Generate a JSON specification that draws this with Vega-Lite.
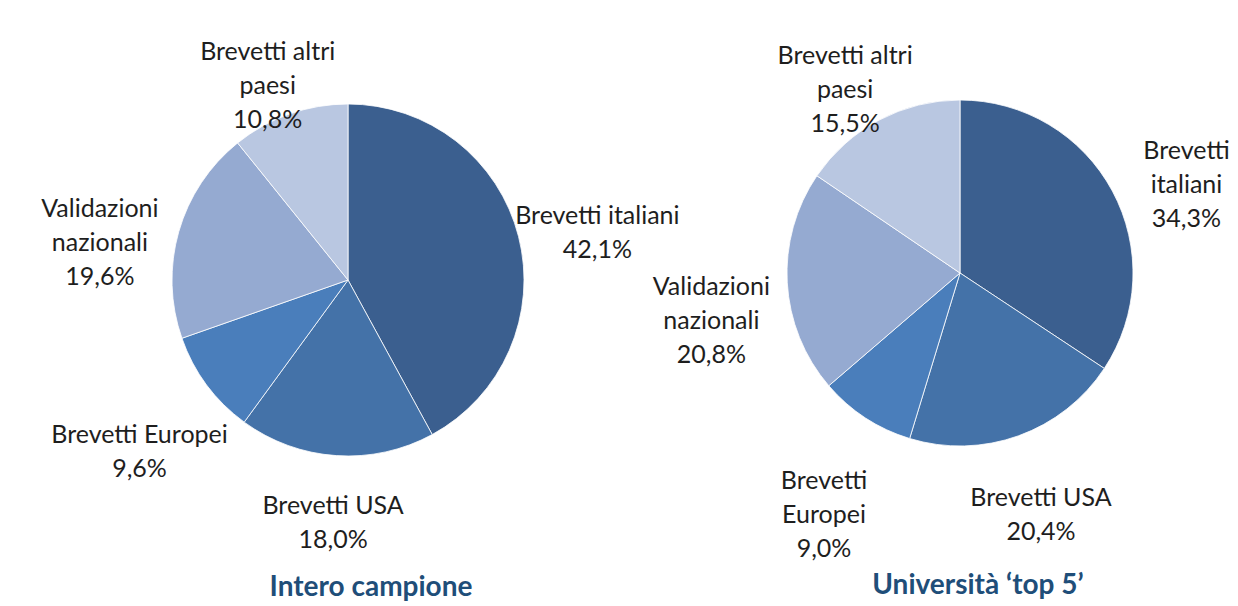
{
  "$schema": "https://vega.github.io/schema/vega-lite/v6.json",
  "padding": 0,
  "spacing": 0,
  "bounds": "flush",
  "background": "white",
  "datasets": {
    "quote": [
      {"pie": "Intero campione", "ord": 1, "category": "Brevetti italiani", "value": 42.1, "label": "Brevetti italiani\n42,1%"},
      {"pie": "Intero campione", "ord": 2, "category": "Brevetti USA", "value": 18.0, "label": "Brevetti USA\n18,0%"},
      {"pie": "Intero campione", "ord": 3, "category": "Brevetti Europei", "value": 9.6, "label": "Brevetti Europei\n9,6%"},
      {"pie": "Intero campione", "ord": 4, "category": "Validazioni nazionali", "value": 19.6, "label": "Validazioni\nnazionali\n19,6%"},
      {"pie": "Intero campione", "ord": 5, "category": "Brevetti altri paesi", "value": 10.8, "label": "Brevetti altri\npaesi\n10,8%"},
      {"pie": "top 5", "ord": 1, "category": "Brevetti italiani", "value": 34.3, "label": "Brevetti\nitaliani\n34,3%"},
      {"pie": "top 5", "ord": 2, "category": "Brevetti USA", "value": 20.4, "label": "Brevetti USA\n20,4%"},
      {"pie": "top 5", "ord": 3, "category": "Brevetti Europei", "value": 9.0, "label": "Brevetti\nEuropei\n9,0%"},
      {"pie": "top 5", "ord": 4, "category": "Validazioni nazionali", "value": 20.8, "label": "Validazioni\nnazionali\n20,8%"},
      {"pie": "top 5", "ord": 5, "category": "Brevetti altri paesi", "value": 15.5, "label": "Brevetti altri\npaesi\n15,5%"}
    ]
  },
  "hconcat": [
    {
      "width": 696,
      "height": 560,
      "data": {"name": "quote"},
      "transform": [{"filter": "datum.pie === 'Intero campione'"}],
      "title": {"text": "Intero campione", "orient": "bottom", "offset": 14, "dx": 23},
      "encoding": {
        "theta": {"field": "value", "type": "quantitative", "stack": true},
        "order": {"field": "ord", "type": "quantitative"}
      },
      "layer": [
        {
          "mark": {"type": "arc", "outerRadius": 176, "stroke": "#ffffff", "strokeWidth": 0.8},
          "encoding": {
            "color": {"field": "category", "type": "nominal", "legend": null,
              "scale": {"domain": ["Brevetti italiani", "Brevetti USA", "Brevetti Europei", "Validazioni nazionali", "Brevetti altri paesi"],
                        "range": ["#3B5F8F", "#4472A8", "#4A7EBB", "#95AAD1", "#B9C7E1"]}}
          }
        },
        {
          "mark": {"type": "text", "lineBreak": "\n", "align": "center", "baseline": "middle",
            "radius": {"expr": "176 + 8 + 66*abs(sin(PI*(datum.value_start+datum.value_end)/100)) + 38*abs(cos(PI*(datum.value_start+datum.value_end)/100))"}},
          "encoding": {"text": {"field": "label"}}
        }
      ]
    },
    {
      "width": 528,
      "height": 546,
      "data": {"name": "quote"},
      "transform": [{"filter": "datum.pie === 'top 5'"}],
      "title": {"text": "Università ‘top 5’", "orient": "bottom", "offset": 10, "dx": 18},
      "encoding": {
        "theta": {"field": "value", "type": "quantitative", "stack": true},
        "order": {"field": "ord", "type": "quantitative"}
      },
      "layer": [
        {
          "mark": {"type": "arc", "outerRadius": 173, "stroke": "#ffffff", "strokeWidth": 0.8},
          "encoding": {
            "color": {"field": "category", "type": "nominal", "legend": null,
              "scale": {"domain": ["Brevetti italiani", "Brevetti USA", "Brevetti Europei", "Validazioni nazionali", "Brevetti altri paesi"],
                        "range": ["#3B5F8F", "#4472A8", "#4A7EBB", "#95AAD1", "#B9C7E1"]}}
          }
        },
        {
          "mark": {"type": "text", "lineBreak": "\n", "align": "center", "baseline": "middle",
            "radius": {"expr": "173 + 8 + 66*abs(sin(PI*(datum.value_start+datum.value_end)/100)) + 38*abs(cos(PI*(datum.value_start+datum.value_end)/100))"}},
          "encoding": {"text": {"field": "label"}}
        }
      ]
    }
  ],
  "config": {
    "view": {"stroke": null},
    "text": {"font": "Lato", "fontSize": 25, "color": "#1E1E1E", "lineHeight": 34},
    "title": {"font": "Lato", "fontSize": 28, "fontWeight": "bold", "color": "#1F4E79", "anchor": "middle", "baseline": "top"}
  }
}
